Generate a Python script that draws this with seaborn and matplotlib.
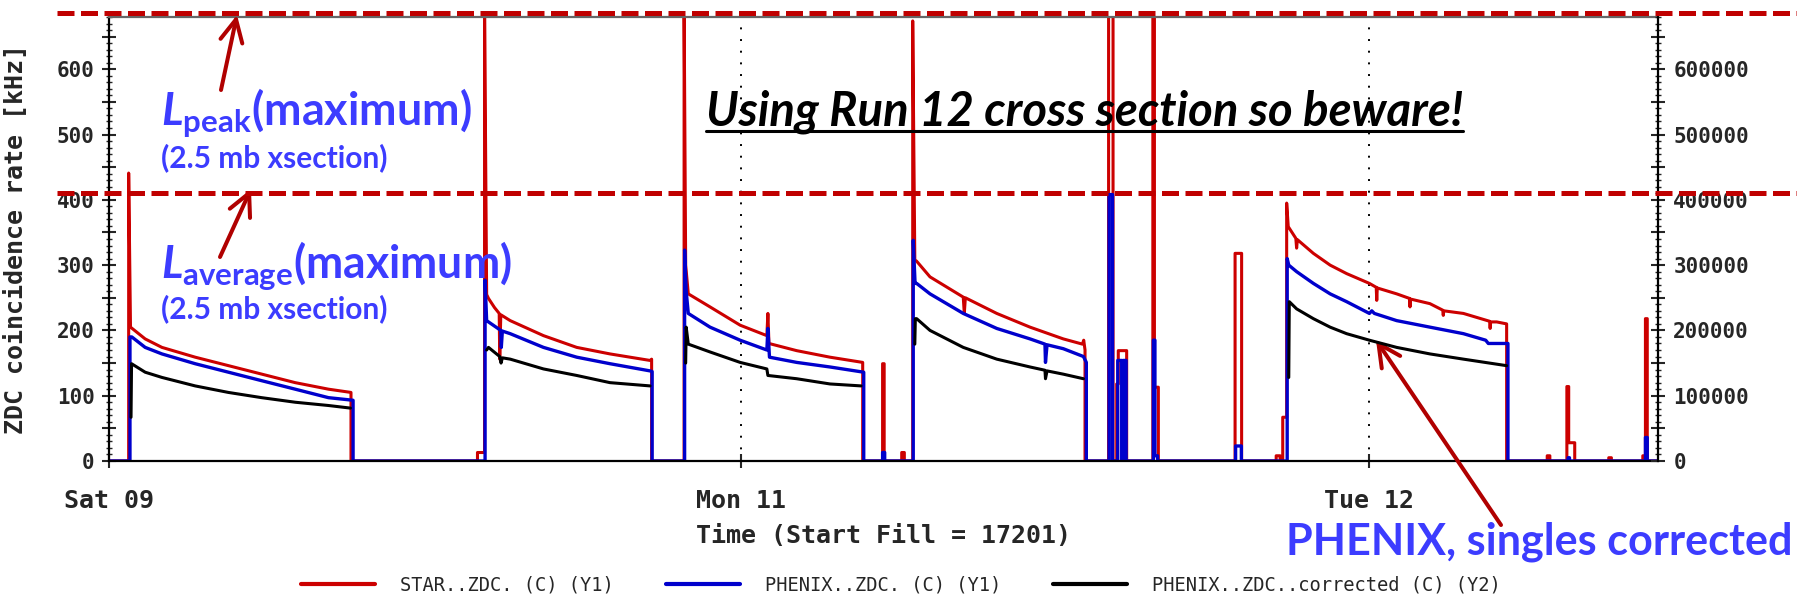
import matplotlib
matplotlib.use("Agg")
import matplotlib.pyplot as plt
import seaborn as sns
import pandas as pd
from matplotlib.lines import Line2D
from matplotlib.ticker import MultipleLocator, FuncFormatter

# ---------------- data (hours from left edge, kHz) ----------------
STAR = [
 (-0.14,0),(0.63,0),(0.63,441),(0.70,205),(1.26,187),(1.90,174),(3.17,159),(4.44,146),(5.71,133),(6.99,120),(8.26,110),(9.12,105),(9.12,0),
 (13.95,0),(13.95,13),(14.22,13),(14.22,700),(14.30,255),(14.37,249),(14.60,235),(14.78,226),(14.80,156),(14.84,224),(15.20,215),(16.47,192),(17.74,174),(19.01,164),(20.54,154),(20.60,156),(20.60,0),
 (21.84,0),(21.84,700),(21.90,300),(22.00,256),(22.83,236),(23.98,208),(25.00,192),(25.04,226),(25.08,180),(26.14,169),(27.41,159),(28.66,151),(28.66,0),
 (29.42,0),(29.42,149),(29.48,149),(29.48,0),(30.15,0),(30.15,13),(30.25,13),(30.25,0),
 (30.57,0),(30.57,674),(30.65,308),(30.72,306),(31.23,282),(32.50,251),(32.54,226),(32.58,250),(33.78,226),(35.05,205),(36.32,187),(37.05,179),(37.10,185),(37.15,170),(37.15,0),
 (38.05,0),(38.05,700),(38.22,700),(38.22,0),
 (38.36,0),(38.36,118),(38.42,118),(38.42,169),(38.74,169),(38.74,0),
 (39.74,0),(39.74,700),(39.80,700),(39.80,113),(39.95,113),(39.95,0),
 (42.88,0),(42.88,318),(43.13,318),(43.13,0),
 (44.45,0),(44.45,8),(44.60,8),(44.60,0),
 (44.70,0),(44.70,67),(44.85,67),(44.85,395),(44.91,359),(45.20,341),(45.23,326),(45.26,339),(45.87,318),(46.51,300),(47.14,287),(48.01,272),(48.27,266),(48.29,246),(48.31,265),(49.05,256),(49.54,249),(49.56,236),(49.58,248),(50.32,241),(50.81,231),(50.83,223),(50.85,230),(51.60,226),(52.60,214),(52.62,203),(52.64,213),(52.87,213),(53.25,210),(53.25,0),
 (54.80,0),(54.80,8),(54.90,8),(54.90,0),
 (55.55,0),(55.55,114),(55.62,114),(55.62,28),(55.85,28),(55.85,0),
 (57.15,0),(57.15,5),(57.25,5),(57.25,0),
 (58.45,0),(58.45,8),(58.55,8),(58.55,218),(58.62,218),(58.62,0),(59.03,0)]

PHENIX = [
 (-0.14,0),(0.68,0),(0.68,190),(0.75,190),(1.26,174),(1.90,164),(3.17,149),(4.44,136),(5.71,123),(6.99,110),(8.26,97),(9.20,93),(9.20,0),
 (14.24,0),(14.24,277),(14.30,215),(14.37,213),(14.84,200),(14.86,174),(14.90,199),(15.20,195),(16.47,174),(17.74,159),(19.01,149),(20.54,138),(20.62,137),(20.62,0),
 (21.86,0),(21.86,323),(21.92,260),(22.00,226),(22.83,205),(23.98,185),(25.00,170),(25.04,203),(25.10,159),(26.14,151),(27.41,144),(28.70,136),(28.70,0),
 (29.42,0),(29.42,13),(29.50,13),(29.50,0),
 (30.59,0),(30.59,338),(30.66,272),(30.72,272),(31.23,256),(32.50,226),(33.78,203),(35.05,187),(35.62,179),(35.64,151),(35.70,178),(36.32,172),(37.09,160),(37.20,151),(37.20,0),
 (38.07,0),(38.07,408),(38.20,408),(38.20,0),
 (38.40,0),(38.40,154),(38.55,154),(38.55,0),(38.60,0),(38.60,154),(38.72,154),(38.72,0),
 (39.76,0),(39.76,185),(39.82,185),(39.82,8),(39.92,8),(39.92,0),
 (42.90,0),(42.90,23),(43.12,23),(43.12,0),
 (44.87,0),(44.87,310),(44.93,300),(45.23,290),(45.87,272),(46.51,256),(47.14,244),(48.01,226),(48.10,230),(48.20,226),(49.05,215),(50.32,205),(51.60,195),(52.45,185),(52.55,180),(53.30,180),(53.30,0),
 (55.60,0),(55.60,5),(55.65,5),(55.65,0),
 (58.55,0),(58.55,36),(58.62,36),(58.62,0),(59.03,0)]

# PHENIX corrected, right axis (Y2) units, one list per fill
CORR = [
 [(0.72,67000),(0.74,149000),(1.26,136000),(1.90,128000),(3.17,115000),(4.44,105000),(5.71,97000),(6.99,90000),(8.26,85000),(9.10,81000)],
 [(14.30,170000),(14.37,174000),(14.80,160000),(14.85,150000),(14.90,158000),(15.20,156000),(16.47,141000),(17.74,131000),(19.01,120000),(20.54,115000)],
 [(21.90,150000),(21.92,205000),(22.00,179000),(22.83,167000),(23.98,151000),(25.00,141000),(25.04,131000),(26.14,126000),(27.41,118000),(28.60,115000)],
 [(30.65,179000),(30.67,218000),(30.72,218000),(31.23,200000),(32.50,174000),(33.78,156000),(35.05,144000),(35.62,139000),(35.64,126000),(35.70,138000),(36.32,133000),(37.09,126000)],
 [(44.93,128000),(44.95,244000),(45.23,233000),(45.87,218000),(46.51,205000),(47.14,195000),(48.01,185000),(49.05,174000),(50.32,164000),(51.60,156000),(53.25,146000)],
]

DAY_TICKS = [-0.14, 24, 48]
DAY_LABELS = ["Sat 09", "Mon 11", "Tue 12"]
X_RANGE = (-0.14, 59.03)
Y1_RANGE = (0, 680)
Y2_RANGE = (0, 680000)
SERIES_LABELS = ["STAR..ZDC. (C) (Y1)", "PHENIX..ZDC. (C) (Y1)", "PHENIX..ZDC..corrected (C) (Y2)"]

RED = "#CC0000"
BLUE = "#0000CC"
BLACK = "#000000"
DARKRED = "#C00000"
ANN_BLUE = "#3C3CFF"

# ---------------- style ----------------
sns.set_style("ticks")
plt.rcParams["font.family"] = ["DejaVu Sans Mono", "DejaVu Sans"]
plt.rcParams["mathtext.fontset"] = "custom"
plt.rcParams["mathtext.rm"] = "Lato:bold"
plt.rcParams["mathtext.it"] = "Lato:italic:bold"
plt.rcParams["mathtext.bf"] = "Lato:bold"

W, H = 1797, 606
fig = plt.figure(figsize=(W / 100, H / 100), dpi=100)
L, R, T, B = 108.5, 1658, 17, 461
ax = fig.add_axes([L / W, 1 - B / H, (R - L) / W, (B - T) / H])

star_df = pd.DataFrame(STAR, columns=["t", "v"])
phx_df = pd.DataFrame(PHENIX, columns=["t", "v"])
corr_df = pd.DataFrame([(t, v, i) for i, seg in enumerate(CORR) for t, v in seg],
                       columns=["t", "v", "seg"])

sns.lineplot(data=star_df, x="t", y="v", estimator=None, sort=False, color=RED,
             lw=2.2, ax=ax, legend=False)
sns.lineplot(data=phx_df, x="t", y="v", estimator=None, sort=False, color=BLUE,
             lw=2.4, ax=ax, legend=False)

ax2 = ax.twinx()
sns.lineplot(data=corr_df, x="t", y="v", units="seg", estimator=None, sort=False,
             color=BLACK, lw=2.2, ax=ax2, legend=False)

ax.set_xlim(*X_RANGE)
ax.set_ylim(*Y1_RANGE)
ax2.set_ylim(*Y2_RANGE)

ax.set_xticks(DAY_TICKS)
ax.set_xticklabels(DAY_LABELS)
ax.yaxis.set_major_locator(MultipleLocator(50))
ax.yaxis.set_minor_locator(MultipleLocator(10))
ax.yaxis.set_major_formatter(FuncFormatter(lambda v, p: f"{int(round(v))}" if round(v) % 100 == 0 else ""))
ax2.yaxis.set_major_locator(MultipleLocator(50000))
ax2.yaxis.set_minor_locator(MultipleLocator(10000))
ax2.yaxis.set_major_formatter(FuncFormatter(lambda v, p: f"{int(round(v))}" if round(v) % 100000 == 0 else ""))

ax.tick_params(axis="y", which="major", direction="inout", length=10, width=1.5, pad=5,
               labelsize=15, left=True, right=False)
ax.tick_params(axis="y", which="minor", direction="inout", length=4, width=1, left=True, right=False)
ax.tick_params(axis="x", which="major", direction="inout", length=10, width=1.5, pad=15,
               labelsize=18, bottom=True, top=False)
ax2.tick_params(axis="y", which="major", direction="inout", length=10, width=1.5, pad=6,
                labelsize=15, right=True)
ax2.tick_params(axis="y", which="minor", direction="inout", length=4, width=1, right=True)
for lbl in ax.get_xticklabels() + ax.get_yticklabels() + ax2.get_yticklabels():
    lbl.set_fontweight("bold")

ax.set_xlabel("Time (Start Fill = 17201)", fontsize=18, fontweight="bold")
ax.xaxis.set_label_coords(0.5, -0.142)
ax.set_ylabel("ZDC coincidence rate [kHz]", fontsize=18, fontweight="bold")
ax.yaxis.set_label_coords(-0.052, 0.5)
ax2.set_ylabel("")

ax.grid(axis="x", which="major", linestyle=(0, (1, 5)), color="k", linewidth=1.4)
ax.grid(axis="y", visible=False)

for s in ["left", "bottom"]:
    ax.spines[s].set_color("k")
    ax.spines[s].set_linewidth(1.6)
ax.spines["top"].set_color("#666666")
ax.spines["top"].set_linewidth(1.6)
ax.spines["right"].set_visible(False)
for s in ["left", "top", "bottom"]:
    ax2.spines[s].set_visible(False)
ax2.spines["right"].set_color("k")
ax2.spines["right"].set_linewidth(1.6)

# legend
handles = [Line2D([], [], color=c, lw=3) for c in (RED, BLUE, BLACK)]
fig.legend(handles, SERIES_LABELS, loc="center", bbox_to_anchor=(901 / W, 1 - 585 / H),
           ncol=3, frameon=False, prop={"family": "DejaVu Sans Mono", "size": 13.5},
           handlelength=3.95, handletextpad=1.33, columnspacing=2.77)

# dashed reference lines (extend outside the axes)
for yp in (13, 193):
    fig.add_artist(Line2D([57 / W, 1.0], [1 - yp / H] * 2, transform=fig.transFigure,
                          color=DARKRED, lw=3.6, dashes=(3.4, 1.3), dash_capstyle="butt", zorder=10))

# annotations
def place(s, x, y, target_w, size0=20, **kw):
    t = fig.text(x / W, 1 - y / H, s, ha="left", va="baseline", fontsize=size0, zorder=12, **kw)
    fig.canvas.draw()
    bb = t.get_window_extent(fig.canvas.get_renderer())
    t.set_fontsize(size0 * target_w / bb.width)
    return t

place(r"$\mathit{L}_{\mathrm{peak}}$(maximum)", 161, 125, 312, color=ANN_BLUE,
      family="Lato", fontweight="bold")
place("(2.5 mb xsection)", 161, 167, 227, color=ANN_BLUE, family="Lato", fontweight="bold")
place(r"$\mathit{L}_{\mathrm{average}}$(maximum)", 161, 277, 352, color=ANN_BLUE,
      family="Lato", fontweight="bold")
place("(2.5 mb xsection)", 161, 318, 227, color=ANN_BLUE, family="Lato", fontweight="bold")
place("Using Run 12 cross section so beware!", 706, 125, 757, color="black",
      family="Lato", fontweight="bold", style="italic")
fig.add_artist(Line2D([706 / W, 1463 / W], [1 - 131 / H] * 2, transform=fig.transFigure,
                      color="black", lw=2.2, zorder=12))
place("PHENIX, singles corrected", 1286, 555, 507, color=ANN_BLUE, family="Lato", fontweight="bold")

arrow_kw = dict(arrowstyle="->,head_length=0.8,head_width=0.4", color="#B00000", lw=2.9,
                mutation_scale=20, shrinkA=0, shrinkB=0)
for tail, head in [((221, 90), (237, 15)), ((220, 257), (251, 189)), ((1501, 525), (1376, 340))]:
    ax.annotate("", xy=(head[0], H - head[1]), xytext=(tail[0], H - tail[1]),
                xycoords="figure pixels", textcoords="figure pixels",
                arrowprops=arrow_kw, annotation_clip=False, zorder=13)

fig.savefig("out.png", dpi=100)
